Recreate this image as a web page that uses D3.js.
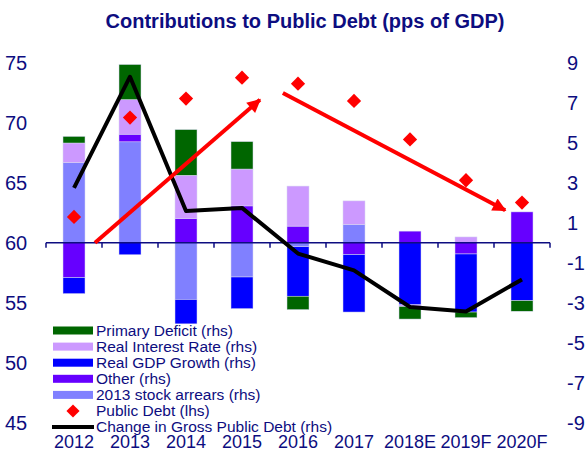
<!DOCTYPE html>
<html><head><meta charset="utf-8">
<script src="https://cdn.jsdelivr.net/npm/d3@7"></script>
<style>body{margin:0;background:#fff;} svg{display:block;}</style>
</head><body>
<svg id="chart" width="587" height="452"></svg>
<script>
const categories = ["2012","2013","2014","2015","2016","2017","2018E","2019F","2020F"];
// stacking order (bottom first): arrears, other, GDP growth, interest, deficit
const stockArrears   = [4.0, 5.04, -2.83, -1.71, -0.2, 0.91, 0, 0, 0];
const other          = [-1.74, 0.38, 1.21, 1.84, 0.83, -0.59, 0.58, -0.56, 1.54];
const realGdpGrowth  = [-0.8, -0.6, -1.22, -1.58, -2.47, -2.87, -3.1, -2.9, -2.89];
const realInterest   = [0.98, 1.73, 2.16, 1.84, 2.0, 1.18, -0.08, 0.29, 0];
const primaryDeficit = [0.33, 1.75, 2.28, 1.37, -0.67, 0, -0.63, -0.28, -0.53];
const publicDebt     = [62.15, 70.42, 72.0, 73.74, 73.24, 71.8, 68.6, 65.2, 63.34];
const changeDebt     = [2.74, 8.29, 1.59, 1.74, -0.54, -1.38, -3.21, -3.43, -1.83];
const leftTicks  = [45, 50, 55, 60, 65, 70, 75];
const rightTicks = [-9, -7, -5, -3, -1, 1, 3, 5, 7, 9];
// trend arrows in data units: [band position, lhs value]
const arrowUp   = [[0.875, 60], [3.82, 71.9]];
const arrowDown = [[4.23, 72.46], [8.2, 62.7]];

const NAVY = "#0d0d80";
const FONT = "Liberation Sans, Arial, sans-serif";
const series = [
  {name:"2013 stock arrears  (rhs)", values: stockArrears, color:"#8080FF"},
  {name:"Other (rhs)", values: other, color:"#6600FF"},
  {name:"Real GDP Growth (rhs)", values: realGdpGrowth, color:"#0000FF"},
  {name:"Real Interest Rate  (rhs)", values: realInterest, color:"#CC99FF"},
  {name:"Primary Deficit (rhs)", values: primaryDeficit, color:"#006600"}
];

const svg = d3.select("#chart");
const x0 = 46, x1 = 550, yTop = 62.5, yBot = 423;
const x = d3.scaleBand().domain(categories).range([x0, x1]).paddingInner(0).paddingOuter(0);
const xPos = d3.scaleLinear().domain([0, categories.length]).range([x0, x1]);
const yL = d3.scaleLinear().domain([45, 75]).range([yBot, yTop]);
const yR = d3.scaleLinear().domain([-9, 9]).range([yBot, yTop]);
const barW = 22;

// stacked bars
categories.forEach((c, i) => {
  let pos = 0, neg = 0;
  series.forEach(s => {
    const v = s.values[i];
    if (!v) return;
    let a, b;
    if (v > 0) { a = pos; b = pos + v; pos = b; } else { a = neg; b = neg + v; neg = b; }
    svg.append("rect")
      .attr("x", x(c) + x.bandwidth()/2 - barW/2)
      .attr("width", barW)
      .attr("y", yR(Math.max(a, b)))
      .attr("height", Math.abs(yR(a) - yR(b)))
      .attr("fill", s.color)
      .attr("stroke", "#d8d8f0").attr("stroke-width", 0.5);
  });
});

// zero axis line with ticks
const axisY = yR(0);
svg.append("line").attr("x1", x0).attr("x2", x1).attr("y1", axisY).attr("y2", axisY)
  .attr("stroke", NAVY).attr("stroke-width", 1.5);
d3.range(categories.length + 1).forEach(k => {
  svg.append("line").attr("x1", xPos(k)).attr("x2", xPos(k))
    .attr("y1", axisY).attr("y2", axisY + 5).attr("stroke", NAVY).attr("stroke-width", 1.5);
});

// change in debt line
const line = d3.line().x((d, i) => x(categories[i]) + x.bandwidth()/2).y(d => yR(d));
svg.append("path").datum(changeDebt).attr("d", line)
  .attr("fill", "none").attr("stroke", "#000").attr("stroke-width", 4).attr("stroke-linejoin", "round");

// arrows
svg.append("defs").append("marker").attr("id", "ah")
  .attr("viewBox", "0 0 10 10").attr("refX", 9).attr("refY", 5)
  .attr("markerWidth", 4.2).attr("markerHeight", 3.4).attr("orient", "auto")
  .attr("markerUnits", "strokeWidth")
  .append("path").attr("d", "M0,0 L10,5 L0,10 Z").attr("fill", "#FF0000");
[arrowUp, arrowDown].forEach(a => {
  svg.append("line")
    .attr("x1", xPos(a[0][0])).attr("y1", yL(a[0][1]))
    .attr("x2", xPos(a[1][0])).attr("y2", yL(a[1][1]))
    .attr("stroke", "#FF0000").attr("stroke-width", 4).attr("marker-end", "url(#ah)");
});

// diamonds
const diamond = d3.symbol().type(d3.symbolDiamond2).size(130);
svg.selectAll(".dm").data(publicDebt).enter().append("path")
  .attr("transform", (d, i) => `translate(${x(categories[i]) + x.bandwidth()/2},${yL(d)})`)
  .attr("d", diamond).attr("fill", "#FF0000");

// left axis labels
svg.selectAll(".lt").data(leftTicks).enter().append("text")
  .attr("x", 5).attr("y", d => yL(d)).attr("dy", "0.36em")
  .attr("font-family", FONT).attr("font-size", 20)
  .attr("fill", NAVY).text(d => d);
// right axis labels
svg.selectAll(".rt").data(rightTicks).enter().append("text")
  .attr("x", 567).attr("y", d => yR(d)).attr("dy", "0.36em")
  .attr("font-family", FONT).attr("font-size", 20)
  .attr("fill", NAVY).text(d => d);
// x labels
svg.selectAll(".xl").data(categories).enter().append("text")
  .attr("x", d => x(d) + x.bandwidth()/2).attr("y", 448).attr("text-anchor", "middle")
  .attr("font-family", FONT).attr("font-size", 18)
  .attr("fill", NAVY).text(d => d);

// title
svg.append("text").attr("x", 305).attr("y", 28).attr("text-anchor", "middle")
  .attr("font-family", FONT).attr("font-size", 20)
  .attr("font-weight", "bold").attr("fill", NAVY)
  .text("Contributions to Public Debt (pps of GDP)");

// legend
const legendItems = [
  {name:"Primary Deficit (rhs)", type:"rect", color:"#006600"},
  {name:"Real Interest Rate  (rhs)", type:"rect", color:"#CC99FF"},
  {name:"Real GDP Growth (rhs)", type:"rect", color:"#0000FF"},
  {name:"Other (rhs)", type:"rect", color:"#6600FF"},
  {name:"2013 stock arrears  (rhs)", type:"rect", color:"#8080FF"},
  {name:"Public Debt (lhs)", type:"diamond", color:"#FF0000"},
  {name:"Change in Gross Public Debt (rhs)", type:"line", color:"#000"}
];
const lg = svg.append("g");
legendItems.forEach((it, i) => {
  const cy = 330.5 + i * 16.1;
  if (it.type === "rect") {
    lg.append("rect").attr("x", 53).attr("y", cy - 4).attr("width", 40).attr("height", 8).attr("fill", it.color);
  } else if (it.type === "diamond") {
    lg.append("path").attr("transform", `translate(73,${cy})`).attr("d", d3.symbol().type(d3.symbolDiamond2).size(110)()).attr("fill", it.color);
  } else {
    lg.append("line").attr("x1", 52).attr("x2", 94).attr("y1", cy).attr("y2", cy).attr("stroke", it.color).attr("stroke-width", 4);
  }
  lg.append("text").attr("x", 96).attr("y", cy).attr("dy", "0.34em")
    .attr("font-family", FONT).attr("font-size", 15.5)
    .attr("fill", NAVY).text(it.name);
});
</script>
</body></html>
